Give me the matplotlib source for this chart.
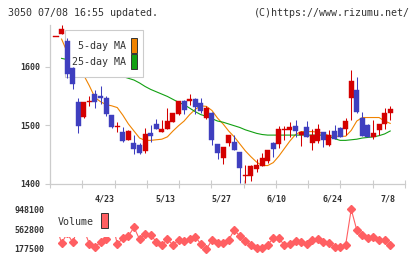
import matplotlib
matplotlib.use("Agg")
import matplotlib.pyplot as plt
from matplotlib.patches import Rectangle
import numpy as np

# trading days shown (Apr 10 - Jul 8)
dates = ["4/10", "4/11", "4/12", "4/15", "4/16", "4/17", "4/18", "4/19", "4/22", "4/23",
         "4/24", "4/25", "4/26", "4/30", "5/1", "5/2", "5/7", "5/8", "5/9", "5/10",
         "5/13", "5/14", "5/15", "5/16", "5/17", "5/20", "5/21", "5/22", "5/23", "5/24",
         "5/27", "5/28", "5/29", "5/30", "5/31", "6/3", "6/4", "6/5", "6/6", "6/7",
         "6/10", "6/11", "6/12", "6/13", "6/14", "6/17", "6/18", "6/19", "6/20", "6/21",
         "6/24", "6/25", "6/26", "6/27", "6/28", "7/1", "7/2", "7/3", "7/4", "7/5", "7/8"]

opens = [1650, 1655, 1643, 1598, 1540, 1514, 1539, 1553, 1550, 1547,
         1517, 1496, 1489, 1475, 1470, 1466, 1455, 1487, 1502, 1489,
         1493, 1506, 1519, 1541, 1542, 1545, 1537, 1513, 1521, 1468,
         1444, 1470, 1472, 1454, 1414, 1414, 1425, 1431, 1439, 1470,
         1467, 1491, 1492, 1499, 1483, 1497, 1470, 1473, 1488, 1466,
         1490, 1495, 1493, 1547, 1560, 1513, 1500, 1479, 1492, 1502, 1521]
highs = [1650, 1671, 1648, 1600, 1547, 1540, 1549, 1560, 1566, 1550,
         1518, 1505, 1497, 1491, 1483, 1469, 1495, 1500, 1510, 1508,
         1529, 1521, 1541, 1543, 1553, 1546, 1547, 1532, 1523, 1468,
         1463, 1484, 1484, 1454, 1432, 1432, 1442, 1453, 1458, 1472,
         1499, 1499, 1506, 1509, 1490, 1507, 1493, 1502, 1488, 1492,
         1500, 1496, 1512, 1594, 1583, 1522, 1502, 1509, 1502, 1529, 1533]
lows = [1650, 1655, 1580, 1561, 1486, 1513, 1532, 1530, 1536, 1516,
        1495, 1489, 1471, 1474, 1450, 1451, 1453, 1471, 1493, 1488,
        1493, 1505, 1518, 1519, 1535, 1519, 1520, 1511, 1466, 1442,
        1434, 1465, 1457, 1402, 1402, 1405, 1420, 1430, 1436, 1446,
        1461, 1475, 1480, 1480, 1465, 1479, 1458, 1469, 1463, 1464,
        1476, 1480, 1483, 1509, 1521, 1482, 1479, 1477, 1483, 1493, 1509]
closes = [1650, 1664, 1587, 1570, 1499, 1539, 1542, 1539, 1546, 1519,
          1496, 1499, 1473, 1490, 1460, 1453, 1485, 1482, 1494, 1493,
          1507, 1520, 1541, 1526, 1545, 1531, 1524, 1530, 1475, 1452,
          1463, 1483, 1458, 1427, 1415, 1431, 1432, 1444, 1458, 1460,
          1493, 1493, 1497, 1490, 1489, 1479, 1483, 1493, 1475, 1483,
          1476, 1480, 1507, 1575, 1523, 1482, 1480, 1486, 1502, 1520, 1527]

ma5 = [np.nan, 1647, 1625, 1605, 1592, 1585, 1567, 1547, 1540, 1535,
       1533, 1530, 1517, 1502, 1490, 1478, 1474, 1474, 1475, 1476,
       1480, 1490, 1499, 1507, 1518, 1527, 1533, 1532, 1525, 1512,
       1502, 1490, 1480, 1468, 1456, 1446, 1437, 1431, 1431, 1436,
       1447, 1460, 1473, 1484, 1489, 1489, 1489, 1488, 1486, 1482,
       1481, 1481, 1481, 1491, 1507, 1513, 1513, 1513, 1513, 1507, 1503]
ma25 = [np.nan, 1614, 1612, 1610, 1607, 1604, 1601, 1598, 1595, 1592,
        1589, 1586, 1583, 1580, 1577, 1572, 1566, 1561, 1557, 1553,
        1549, 1544, 1539, 1535, 1529, 1523, 1518, 1515, 1511, 1507,
        1505, 1502, 1499, 1496, 1492, 1489, 1486, 1484, 1483, 1483,
        1483, 1483, 1483, 1483, 1483, 1483, 1483, 1483, 1483, 1481,
        1477, 1474, 1474, 1475, 1476, 1478, 1479, 1480, 1482, 1485, 1490]

volume = [650000, 288000, 480000, 307000, 600000, 552000, 274000, 222000, 307000, 366000,
          740000, 274000, 385000, 430000, 599000, 366000, 469000, 449000, 319000, 255000,
          366000, 255000, 352000, 333000, 366000, 416000, 274000, 172000, 352000, 288000,
          300000, 352000, 546000, 430000, 333000, 255000, 191000, 191000, 255000, 385000,
          385000, 255000, 274000, 333000, 307000, 274000, 352000, 366000, 307000, 288000,
          210000, 210000, 255000, 948100, 546000, 449000, 385000, 405000, 352000, 352000, 255000]

price_ticks = [1400, 1500, 1600]
volume_ticks = [177500, 562800, 948100]
date_labels = ["4/23", "5/13", "5/27", "6/10", "6/24", "7/8"]

W, H = 420, 259
RED = "#d40000"
BLUE = "#3f3fbf"
ORANGE = "#f08300"
GREEN = "#12a012"
VOLC = "#ff5f62"
GRID = "#cccccc"
TXT = "#333333"
MONO = "DejaVu Sans Mono"


def fx(px):
    return px / W


def fy(py):
    return 1 - py / H


fig = plt.figure(figsize=(W / 100, H / 100), dpi=100)
fig.patch.set_facecolor("white")

x = np.arange(len(dates))
xlim = ((50 - 56) / 5.57, (405 - 56) / 5.57)

# price panel
ax = fig.add_axes([fx(50), fy(183.7), fx(405) - fx(50), fy(25) - fy(183.7)])
ax.set_xlim(*xlim)
ax.set_ylim(1400, 1671)

ax.plot(x, ma5, color=ORANGE, lw=0.8, zorder=2)
ax.plot(x, ma25, color=GREEN, lw=0.8, zorder=2)

o = np.array(opens, float)
c = np.array(closes, float)
colors = [RED if cc >= oo else BLUE for oo, cc in zip(o, c)]
ax.vlines(x, lows, highs, colors=colors, lw=0.75, zorder=3)
body = np.maximum(np.abs(c - o), 1.5)
ax.bar(x, body, bottom=np.minimum(o, c), width=0.9, color=colors,
       edgecolor=colors, linewidth=0.3, zorder=3.1)

for s in ["top", "right"]:
    ax.spines[s].set_visible(False)
for s in ["left", "bottom"]:
    ax.spines[s].set_color(GRID)
    ax.spines[s].set_linewidth(0.9)

ax.set_yticks(price_ticks)
ax.set_yticklabels([str(t) for t in price_ticks])
ax.tick_params(axis="y", direction="out", length=3.6, width=0.8, color=GRID,
               pad=3.4, labelsize=6, labelcolor=TXT)

# date labels sit a little left of their candle in the original
label_pos = [dates.index(d) - 0.35 for d in date_labels]
ax.set_xticks(label_pos)
ax.set_xticklabels(date_labels)
ax.set_xticks(np.linspace(xlim[0], xlim[1], 12), minor=True)
ax.tick_params(axis="x", which="major", length=0, pad=8, labelsize=6, labelcolor=TXT)
ax.tick_params(axis="x", which="minor", direction="inout", length=6, width=0.8, color=GRID)
for lab in ax.get_xticklabels() + ax.get_yticklabels():
    lab.set_family(MONO)
    lab.set_fontweight("bold")

# legend box (under the candles, over the MA lines)
ax.add_patch(Rectangle((fx(65), fy(77)), fx(143) - fx(65), fy(30) - fy(77),
                       transform=fig.transFigure, facecolor="white", edgecolor=GRID,
                       lw=0.8, zorder=2.5, clip_on=False))
ax.text(fx(126), fy(46), "5-day MA", transform=fig.transFigure, ha="right", va="center",
        fontsize=7.2, family=MONO, color=TXT, zorder=2.6)
ax.text(fx(126), fy(62), "25-day MA", transform=fig.transFigure, ha="right", va="center",
        fontsize=7.2, family=MONO, color=TXT, zorder=2.6)
ax.add_patch(Rectangle((fx(131), fy(53)), fx(6), fy(0) - fy(15), transform=fig.transFigure,
                       facecolor=ORANGE, edgecolor=TXT, lw=0.7, zorder=2.6, clip_on=False))
ax.add_patch(Rectangle((fx(131), fy(69)), fx(6), fy(0) - fy(15), transform=fig.transFigure,
                       facecolor=GREEN, edgecolor=TXT, lw=0.7, zorder=2.6, clip_on=False))

# volume panel
vax = fig.add_axes([fx(50), fy(253), fx(405) - fx(50), fy(205) - fy(253)])
vax.set_xlim(*xlim)
vax.set_ylim(99840, 1031570)
vax.plot(x, volume, color=VOLC, lw=0.8, marker="D", ms=3.8, mec=VOLC, mfc=VOLC, zorder=2)
for s in vax.spines.values():
    s.set_visible(False)
vax.set_xticks([])
vax.set_yticks(volume_ticks)
vax.set_yticklabels([str(t) for t in volume_ticks])
vax.tick_params(axis="y", length=0, pad=4.3, labelsize=6, labelcolor=TXT)
for lab in vax.get_yticklabels():
    lab.set_family(MONO)
    lab.set_fontweight("bold")

vax.add_patch(Rectangle((fx(50.5), fy(237)), fx(116.5) - fx(50.5), fy(204) - fy(237),
                        transform=fig.transFigure, facecolor="white", edgecolor="none",
                        zorder=5, clip_on=False))
vax.text(fx(58), fy(222), "Volume", transform=fig.transFigure, ha="left", va="center",
         fontsize=7.2, family=MONO, color=TXT, zorder=6)
vax.add_patch(Rectangle((fx(101), fy(228)), fx(7), fy(0) - fy(15), transform=fig.transFigure,
                        facecolor=VOLC, edgecolor=TXT, lw=0.7, zorder=6, clip_on=False))

# header
fig.text(fx(8), fy(12.5), "3050 07/08 16:55 updated.", ha="left", va="center",
         fontsize=7.2, family=MONO, color=TXT)
fig.text(fx(410), fy(12.5), "(C)https://www.rizumu.net/", ha="right", va="center",
         fontsize=7.2, family=MONO, color=TXT)

fig.savefig("out.png", dpi=100, facecolor="white")
